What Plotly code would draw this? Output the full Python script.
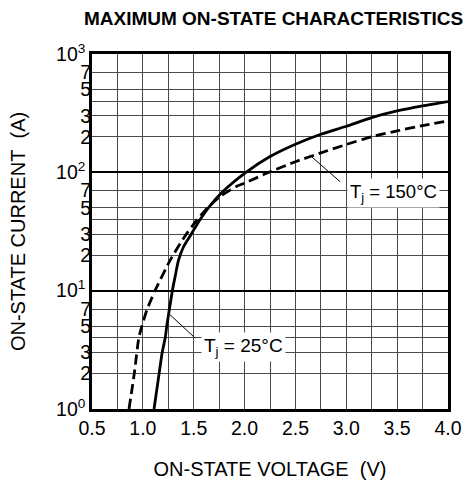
import math
import plotly.graph_objects as go

# ---- data ----
v_25 = [1.11, 1.16, 1.19, 1.22, 1.235, 1.29, 1.316, 1.35, 1.40, 1.46, 1.56, 1.64, 1.77, 2.00,
        2.25, 2.50, 2.75, 3.00, 3.25, 3.50, 3.75, 4.00]
i_25 = [1.0, 2.0, 3.0, 4.0, 5.0, 10, 13, 18, 23.5, 28.6, 39.5, 49.6, 66.6, 98,
        136, 173, 210, 245, 290, 330, 364, 396]

v_150 = [0.864, 0.916, 0.96, 0.99, 1.04, 1.12, 1.27, 1.41, 1.53, 1.63, 1.76, 1.92,
         2.00, 2.25, 2.50, 2.75, 3.00, 3.25, 3.50, 3.75, 4.00]
i_150 = [1.0, 2.0, 4.0, 5.0, 6.9, 10, 18.2, 28.6, 39.5, 49.6, 62.6, 76,
         81, 101, 123, 146, 172, 200, 224, 248, 272]

x_tick_vals = [0.5, 1.0, 1.5, 2.0, 2.5, 3.0, 3.5, 4.0]
x_tick_text = ["0.5", "1.0", "1.5", "2.0", "2.5", "3.0", "3.5", "4.0"]
decade_vals = [1, 10, 100, 1000]
decade_text = ["10<sup>0</sup>", "10<sup>1</sup>", "10<sup>2</sup>", "10<sup>3</sup>"]
sub_vals = [2, 3, 5, 7, 20, 30, 50, 70, 200, 300, 500, 700]
sub_text = ["2", "3", "5", "7"] * 3
grid_minor_vals = [2, 3, 4, 5, 7, 20, 30, 40, 50, 70, 200, 300, 400, 500, 700]

label_25 = "T<sub>j</sub> = 25°C"
label_150 = "T<sub>j</sub> = 150°C"

FONT = "Liberation Sans, Arial, sans-serif"
GRID = "#4a4a4a"
TICK_SIZE = 19.5
TITLE_SIZE = 20

fig = go.Figure()
fig.add_trace(go.Scatter(x=v_25, y=i_25, mode="lines", name="25",
                         line=dict(color="black", width=2.8, shape="spline", smoothing=0.6),
                         showlegend=False, hoverinfo="skip"))
fig.add_trace(go.Scatter(x=v_150, y=i_150, mode="lines", name="150",
                         line=dict(color="black", width=2.8, dash="10px,5px",
                                   shape="spline", smoothing=0.5),
                         showlegend=False, hoverinfo="skip", yaxis="y2"))

# leader lines (tip on curve) and labels
tip_25 = (1.255, 6.4)
tip_150 = (2.64, 140)
text_25 = (1.985, 3.33)
text_150 = (3.46, 67)

annos = [
    dict(x=tip_25[0], y=math.log10(tip_25[1]), xref="x", yref="y", text=" ",
         showarrow=True, arrowhead=0, arrowwidth=1, arrowcolor="black",
         ax=28, ay=26, font=dict(size=1)),
    dict(x=tip_150[0], y=math.log10(tip_150[1]), xref="x", yref="y", text=" ",
         showarrow=True, arrowhead=0, arrowwidth=1, arrowcolor="black",
         ax=32, ay=28, font=dict(size=1)),
    dict(x=text_25[0], y=math.log10(text_25[1]), xref="x", yref="y", text=label_25,
         showarrow=False, bgcolor="white", borderpad=2,
         font=dict(family=FONT, size=19, color="black")),
    dict(x=text_150[0], y=math.log10(text_150[1]), xref="x", yref="y", text=label_150,
         showarrow=False, bgcolor="white", borderpad=2,
         font=dict(family=FONT, size=18.5, color="black")),
]

fig.update_layout(
    width=472, height=481,
    margin=dict(l=92, r=24, t=54, b=72, autoexpand=False),
    paper_bgcolor="white", plot_bgcolor="white",
    font=dict(family=FONT, size=TICK_SIZE, color="black"),
    title=dict(text="<b>MAXIMUM ON-STATE CHARACTERISTICS</b>",
               x=0.51, xref="paper", xanchor="center",
               y=1 - 18 / 481, yref="container", yanchor="middle",
               font=dict(family=FONT, size=19, color="black")),
    xaxis=dict(range=[0.5, 4.0], tickmode="array", tickvals=x_tick_vals,
               ticktext=x_tick_text, ticks="", showgrid=True, gridcolor=GRID,
               gridwidth=1.2, zeroline=False, showline=True, mirror=True,
               linecolor="black", linewidth=2.5,
               minor=dict(tickmode="linear", tick0=0.5, dtick=0.25, showgrid=True,
                          gridcolor=GRID, gridwidth=1.2),
               tickfont=dict(size=TICK_SIZE),
               title=dict(text="ON-STATE VOLTAGE\u00a0 (V)", standoff=24,
                          font=dict(size=TITLE_SIZE))),
    yaxis=dict(type="log", range=[0, 3], tickmode="array", tickvals=decade_vals,
               ticktext=decade_text, ticks="", showgrid=True, gridcolor="black",
               gridwidth=2, zeroline=False, showline=True, mirror=True,
               linecolor="black", linewidth=2.5,
               minor=dict(tickmode="array", tickvals=grid_minor_vals, showgrid=True,
                          gridcolor=GRID, gridwidth=1.2),
               tickfont=dict(size=TICK_SIZE),
               title=dict(text="ON-STATE CURRENT\u00a0 (A)", standoff=26,
                          font=dict(size=TITLE_SIZE))),
    yaxis2=dict(type="log", range=[0, 3], overlaying="y", side="left", anchor="x",
                tickmode="array", tickvals=sub_vals, ticktext=sub_text, ticks="",
                showgrid=False, zeroline=False, showline=False,
                tickfont=dict(size=TICK_SIZE)),
    annotations=annos,
    showlegend=False,
)

fig.write_html("out.html",
               config={"displayModeBar": False},
               post_script="document.body.style.margin='0';document.body.style.overflow='hidden';")
